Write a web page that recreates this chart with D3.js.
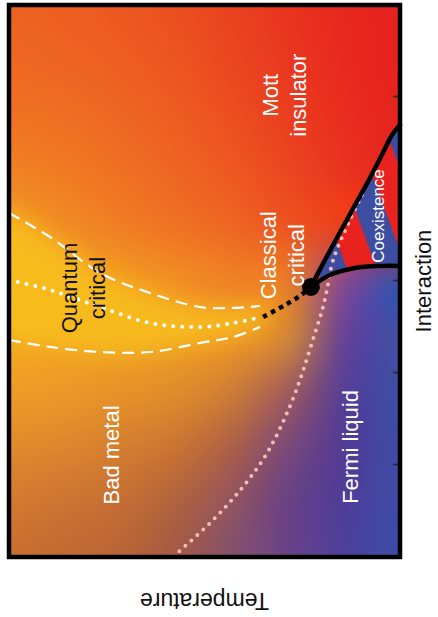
<!DOCTYPE html>
<html>
<head>
<meta charset="utf-8">
<script src="https://cdn.jsdelivr.net/npm/d3@7"></script>
<style>
  html, body { margin: 0; padding: 0; background: #fff; }
  svg { display: block; font-family: "Liberation Sans", Arial, Helvetica, sans-serif; }
</style>
</head>
<body>
<svg id="chart" width="438" height="617"></svg>
<script>
// Interaction–temperature phase diagram of a Mott system, laid out turned a quarter turn
// (interaction runs up the page, temperature runs leftward).

// ---- data (interaction in units of the tick spacing, temperature normalised to the panel) ----
const interactionTicks = [1, 2, 3, 4, 5];

const criticalPoint = { u: 2.935, t: 0.228 };

// first-order transition: upper and lower spinodals bounding the coexistence region
const spinodalUpper = [
  [2.935, 0.228], [3.228, 0.192], [3.533, 0.153], [3.826, 0.115],
  [4.120, 0.077], [4.400, 0.043], [4.590, 0.020], [4.696, 0.0]
];
const spinodalLower = [
  [2.935, 0.228], [3.065, 0.179], [3.141, 0.115], [3.163, 0.051], [3.163, 0.0]
];

// crossover continuing beyond the classical critical point
const classicalCrossover = [
  [2.609, 0.350], [2.739, 0.294], [2.850, 0.252], [2.935, 0.228]
];

// quantum-critical fan: centre line and its two boundaries
const qcCentre = [
  [3.011, 1.0], [2.902, 0.895], [2.717, 0.767], [2.543, 0.639],
  [2.500, 0.512], [2.543, 0.427], [2.598, 0.366]
];
const qcUpper = [
  [3.739, 1.0], [3.478, 0.895], [3.087, 0.767], [2.870, 0.639],
  [2.717, 0.512], [2.707, 0.427], [2.728, 0.358]
];
const qcLower = [
  [2.359, 1.0], [2.283, 0.895], [2.228, 0.767], [2.228, 0.639],
  [2.326, 0.512], [2.391, 0.427], [2.500, 0.358]
];

// Fermi-liquid coherence crossover
const coherenceLine = [
  [3.935, 0.097], [3.663, 0.128], [3.228, 0.171], [2.902, 0.187],
  [2.685, 0.199], [2.467, 0.215], [2.196, 0.235], [1.924, 0.256],
  [1.565, 0.289], [1.130, 0.340], [0.761, 0.402], [0.402, 0.478], [0.0, 0.581]
];

// region labels, anchored in (interaction, temperature)
const regionLabels = [
  { lines: ["Mott", "insulator"], u: 5.02, t: 0.312, fill: "#fff" },
  { lines: ["Quantum", "critical"], u: 2.924, t: 0.826, fill: "#111" },
  { lines: ["Classical", "critical"], u: 3.28, t: 0.318, fill: "#fff" },
  { lines: ["Bad metal"], u: 1.109, t: 0.719, fill: "#fff" },
  { lines: ["Fermi liquid"], u: 1.196, t: 0.107, fill: "#fff" }
];

// ---- styling ----
// background shading across the panel (rows top→bottom, columns left→right on the page)
const shading = [
  ["#ec6220", "#ed5e21", "#ec5820", "#eb4e20", "#ea421f", "#e9341e", "#e7281e", "#e6221e"],
  ["#ee6822", "#ee6422", "#ed5e21", "#ec5420", "#eb4620", "#e9381f", "#e82a1e", "#e6221e"],
  ["#ef7222", "#ef6e22", "#ee6622", "#ed5c21", "#ec4e20", "#ea3e1f", "#e82e1e", "#e6241e"],
  ["#f08224", "#f07a23", "#ef7022", "#ee6522", "#ed5821", "#eb4620", "#e9341f", "#e7261e"],
  ["#f29a24", "#f18c24", "#f07e24", "#ef7223", "#ee6622", "#ec5421", "#e9401f", "#e72c1e"],
  ["#f4ac20", "#f3a622", "#f29a22", "#f18e24", "#ee8226", "#e47a2a", "#8a4a88", "#4050a4"],
  ["#f3a822", "#f2a422", "#f0a024", "#ee9a26", "#ec9228", "#d08438", "#6a4494", "#4050a4"],
  ["#ee9c26", "#eb9828", "#e69228", "#de8c2c", "#cc7c36", "#a05c5c", "#584094", "#3e4ea4"],
  ["#e08a2c", "#dc862e", "#d47e30", "#c87434", "#ac6048", "#7c4a78", "#543c94", "#3e4ca4"],
  ["#d27a30", "#cc7432", "#c46e34", "#b0623e", "#925460", "#6a4284", "#503e98", "#3e4ca6"],
  ["#c86e30", "#c26a32", "#b86436", "#a45a46", "#84506c", "#6a4288", "#4e409c", "#3c4ca6"]
];

const panel = { left: 9, top: 5, right: 400, bottom: 557 };
const W = panel.bottom - panel.top;   // extent along interaction
const H = panel.right - panel.left;   // extent along temperature

const x = d3.scaleLinear().domain([0, 6]).range([0, W]);
const y = d3.scaleLinear().domain([0, 1]).range([H, 0]);

const svg = d3.select("#chart");
const defs = svg.append("defs");

// smooth (Catmull-Rom) interpolation of the shading grid onto a canvas
function shadingImage(grid, w, h) {
  const nr = grid.length, nc = grid[0].length;
  const rgb = grid.map(r => r.map(c => { const o = d3.rgb(c); return [o.r, o.g, o.b]; }));
  const at = (r, c, k) => rgb[Math.max(0, Math.min(nr - 1, r))][Math.max(0, Math.min(nc - 1, c))][k];
  const cr = (p0, p1, p2, p3, s) =>
    0.5 * (2 * p1 + (-p0 + p2) * s + (2 * p0 - 5 * p1 + 4 * p2 - p3) * s * s + (-p0 + 3 * p1 - 3 * p2 + p3) * s * s * s);
  const cv = document.createElement("canvas");
  cv.width = w; cv.height = h;
  const ctx = cv.getContext("2d");
  const img = ctx.createImageData(w, h);
  for (let py = 0; py < h; py++) {
    const gy = py / (h - 1) * (nr - 1);
    const r0 = Math.min(nr - 2, Math.floor(gy)), sy = gy - r0;
    for (let px = 0; px < w; px++) {
      const gx = px / (w - 1) * (nc - 1);
      const c0 = Math.min(nc - 2, Math.floor(gx)), sx = gx - c0;
      const i = (py * w + px) * 4;
      for (let k = 0; k < 3; k++) {
        const rows = [-1, 0, 1, 2].map(dr =>
          cr(at(r0 + dr, c0 - 1, k), at(r0 + dr, c0, k), at(r0 + dr, c0 + 1, k), at(r0 + dr, c0 + 2, k), sx));
        img.data[i + k] = Math.max(0, Math.min(255, cr(rows[0], rows[1], rows[2], rows[3], sy)));
      }
      img.data[i + 3] = 255;
    }
  }
  ctx.putImageData(img, 0, 0);
  return cv.toDataURL();
}

svg.append("image")
  .attr("x", panel.left).attr("y", panel.top)
  .attr("width", H).attr("height", W)
  .attr("preserveAspectRatio", "none")
  .attr("href", shadingImage(shading, H, W));

// plot group: interaction along local x, temperature along local y, turned -90°
const g = svg.append("g")
  .attr("transform", `translate(${panel.left},${panel.bottom}) rotate(-90)`);

defs.append("clipPath").attr("id", "panelClip")
  .append("rect").attr("x", 0).attr("y", 0).attr("width", W).attr("height", H);

defs.append("filter").attr("id", "soft")
  .attr("x", "-50%").attr("y", "-50%").attr("width", "200%").attr("height", "200%")
  .append("feGaussianBlur").attr("stdDeviation", 11);

const line = d3.line().x(d => x(d[0])).y(d => y(d[1])).curve(d3.curveCatmullRom.alpha(0.5));

// warm glow filling the quantum-critical fan
const fanPts = qcUpper.map(d => [x(d[0]), y(d[1])])
  .concat([[x(criticalPoint.u) - 20, y(criticalPoint.t) - 40]])
  .concat(qcLower.slice().reverse().map(d => [x(d[0]), y(d[1])]))
  .concat([[x(qcLower[0][0]), -40], [x(qcUpper[0][0]), -40]]);
g.append("g").attr("clip-path", "url(#panelClip)")
  .append("path")
  .attr("d", d3.line().curve(d3.curveCatmullRomClosed)(fanPts))
  .attr("fill", "#f8bf1c").attr("opacity", 0.85)
  .attr("filter", "url(#soft)");

// striped fill for the coexistence region (alternating insulating / metallic bands)
const stripes = defs.append("pattern")
  .attr("id", "coexStripes")
  .attr("patternUnits", "userSpaceOnUse")
  .attr("width", 56).attr("height", 56)
  .attr("patternTransform", "rotate(160) translate(0,31.9)");
stripes.append("rect").attr("width", 56).attr("height", 56).attr("fill", "#e8221e");
stripes.append("rect").attr("width", 56).attr("height", 28).attr("fill", "#3d4ea2");

// quantum-critical fan lines
g.append("path").attr("d", line(qcUpper))
  .attr("fill", "none").attr("stroke", "#fff").attr("stroke-width", 2.2)
  .attr("stroke-dasharray", "12 7");
g.append("path").attr("d", line(qcLower))
  .attr("fill", "none").attr("stroke", "#fff").attr("stroke-width", 2.2)
  .attr("stroke-dasharray", "12 7");
g.append("path").attr("d", line(qcCentre))
  .attr("fill", "none").attr("stroke", "#fff").attr("stroke-width", 4)
  .attr("stroke-linecap", "round").attr("stroke-dasharray", "0 9");

// interaction axis ticks (inward, no labels)
const axis = g.append("g")
  .attr("transform", `translate(0,${H})`)
  .call(d3.axisTop(x).tickValues(interactionTicks).tickSize(7).tickFormat(""));
axis.select(".domain").remove();
axis.selectAll(".tick line").attr("stroke", "#2a2a2a").attr("stroke-width", 1.6);

// coexistence region
const upperPath = line(spinodalUpper);
const lowerRev = line(spinodalLower.slice().reverse());
g.append("path")
  .attr("d", upperPath + "L" + lowerRev.slice(1) + "Z")
  .attr("fill", "url(#coexStripes)");

// coherence crossover
g.append("path").attr("d", line(coherenceLine))
  .attr("fill", "none").attr("stroke", "#f5bcb2").attr("stroke-width", 4)
  .attr("stroke-linecap", "round").attr("stroke-dasharray", "0 8");

// spinodals
[spinodalUpper, spinodalLower].forEach(s => {
  g.append("path").attr("d", line(s))
    .attr("fill", "none").attr("stroke", "#000").attr("stroke-width", 4.5)
    .attr("stroke-linecap", "round");
});

// crossover above the critical end point
g.append("path").attr("d", line(classicalCrossover))
  .attr("fill", "none").attr("stroke", "#000").attr("stroke-width", 4.5)
  .attr("stroke-dasharray", "4.5 4.5");

g.append("circle")
  .attr("cx", x(criticalPoint.u)).attr("cy", y(criticalPoint.t))
  .attr("r", 9).attr("fill", "#000");

// region labels
regionLabels.forEach(l => {
  const t = g.append("text")
    .attr("x", x(l.u)).attr("y", y(l.t))
    .attr("text-anchor", "middle")
    .attr("font-size", 22)
    .attr("fill", l.fill);
  l.lines.forEach((s, i) => {
    t.append("tspan").attr("x", x(l.u)).attr("dy", i === 0 ? 0 : 28).text(s);
  });
});

g.append("text")
  .attr("x", x(3.707)).attr("y", y(0.041))
  .attr("text-anchor", "middle").attr("font-size", 17).attr("fill", "#fff")
  .text("Coexistence");

// axis titles
g.append("text")
  .attr("x", W / 2).attr("y", H + 31)
  .attr("text-anchor", "middle").attr("font-size", 22).attr("fill", "#111")
  .text("Interaction");
g.append("text")
  .attr("transform", `translate(-36,${H / 2}) rotate(-90)`)
  .attr("text-anchor", "middle").attr("font-size", 23).attr("fill", "#111")
  .text("Temperature");

// panel frame
g.append("rect")
  .attr("x", 0).attr("y", 0).attr("width", W).attr("height", H)
  .attr("fill", "none").attr("stroke", "#000").attr("stroke-width", 4.5);
</script>
</body>
</html>
